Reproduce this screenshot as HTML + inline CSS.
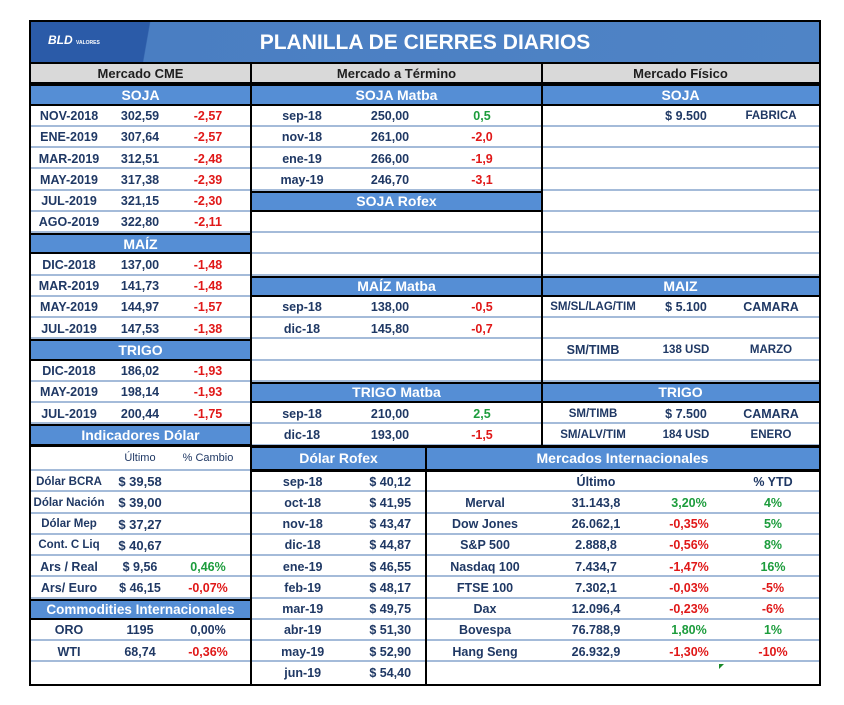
<!DOCTYPE html>
<html><head><meta charset="utf-8"><style>
body{margin:0;width:844px;height:705px;background:#fff;position:relative;overflow:hidden;font-family:"Liberation Sans",sans-serif}
.blk{position:absolute}
.r{display:flex;height:21.25px;box-sizing:border-box;align-items:center;font-weight:bold;font-size:12.5px;color:#1f3864;box-shadow:inset 0 -2px #a4bbd9;white-space:nowrap}
.r>span{text-align:center;display:block}
.b{background:#558ed5;color:#fff;font-size:14px;justify-content:center;box-shadow:inset 0 2px #000,inset 0 -2px #000}
.g{background:#d9d9d9;color:#1f1f1f;font-size:13px;justify-content:center;font-weight:bold;box-shadow:inset 0 -2px #000}
.red{color:#e01818}.grn{color:#1c9c3c}
.vl{position:absolute;background:#000;width:2px}
.hl{position:absolute;background:#000;height:2px}
.sm{font-size:11.5px}
</style></head><body>
<div style="position:absolute;left:30px;top:21px;width:790px;height:42px;background:linear-gradient(100deg,#2b5ba8 0,#2b5ba8 118px,#4a7ec2 119px,#4f84c6 100%)"></div>
<div style="position:absolute;left:48px;top:33px;color:#fff;font-weight:bold;font-style:italic;font-size:12px">BLD <span style="font-size:5px;font-style:normal">VALORES<br></span></div>
<div style="position:absolute;left:30px;top:21px;width:790px;height:42px;line-height:44px;text-align:center;color:#fff;font-weight:bold;font-size:21px">PLANILLA DE CIERRES DIARIOS</div>

<!-- Left top -->
<div class="blk" style="left:30px;top:63px;width:221px">
<div class="r g">Mercado CME</div>
<div class="r b">SOJA</div>
<div class="r"><span style="width:78px">NOV-2018</span><span style="width:64px">302,59</span><span style="width:72px" class="red">-2,57</span></div>
<div class="r"><span style="width:78px">ENE-2019</span><span style="width:64px">307,64</span><span style="width:72px" class="red">-2,57</span></div>
<div class="r"><span style="width:78px">MAR-2019</span><span style="width:64px">312,51</span><span style="width:72px" class="red">-2,48</span></div>
<div class="r"><span style="width:78px">MAY-2019</span><span style="width:64px">317,38</span><span style="width:72px" class="red">-2,39</span></div>
<div class="r"><span style="width:78px">JUL-2019</span><span style="width:64px">321,15</span><span style="width:72px" class="red">-2,30</span></div>
<div class="r"><span style="width:78px">AGO-2019</span><span style="width:64px">322,80</span><span style="width:72px" class="red">-2,11</span></div>
<div class="r b">MAÍZ</div>
<div class="r"><span style="width:78px">DIC-2018</span><span style="width:64px">137,00</span><span style="width:72px" class="red">-1,48</span></div>
<div class="r"><span style="width:78px">MAR-2019</span><span style="width:64px">141,73</span><span style="width:72px" class="red">-1,48</span></div>
<div class="r"><span style="width:78px">MAY-2019</span><span style="width:64px">144,97</span><span style="width:72px" class="red">-1,57</span></div>
<div class="r"><span style="width:78px">JUL-2019</span><span style="width:64px">147,53</span><span style="width:72px" class="red">-1,38</span></div>
<div class="r b">TRIGO</div>
<div class="r"><span style="width:78px">DIC-2018</span><span style="width:64px">186,02</span><span style="width:72px" class="red">-1,93</span></div>
<div class="r"><span style="width:78px">MAY-2019</span><span style="width:64px">198,14</span><span style="width:72px" class="red">-1,93</span></div>
<div class="r"><span style="width:78px">JUL-2019</span><span style="width:64px">200,44</span><span style="width:72px" class="red">-1,75</span></div>
<div class="r b">Indicadores Dólar</div>
</div>

<!-- Middle top -->
<div class="blk" style="left:251px;top:63px;width:291px">
<div class="r g">Mercado a Término</div>
<div class="r b">SOJA Matba</div>
<div class="r"><span style="width:102px">sep-18</span><span style="width:74px">250,00</span><span style="width:110px" class="grn">0,5</span></div>
<div class="r"><span style="width:102px">nov-18</span><span style="width:74px">261,00</span><span style="width:110px" class="red">-2,0</span></div>
<div class="r"><span style="width:102px">ene-19</span><span style="width:74px">266,00</span><span style="width:110px" class="red">-1,9</span></div>
<div class="r"><span style="width:102px">may-19</span><span style="width:74px">246,70</span><span style="width:110px" class="red">-3,1</span></div>
<div class="r b">SOJA Rofex</div>
<div class="r"></div><div class="r"></div><div class="r"></div>
<div class="r b">MAÍZ Matba</div>
<div class="r"><span style="width:102px">sep-18</span><span style="width:74px">138,00</span><span style="width:110px" class="red">-0,5</span></div>
<div class="r"><span style="width:102px">dic-18</span><span style="width:74px">145,80</span><span style="width:110px" class="red">-0,7</span></div>
<div class="r"></div><div class="r"></div>
<div class="r b">TRIGO Matba</div>
<div class="r"><span style="width:102px">sep-18</span><span style="width:74px">210,00</span><span style="width:110px" class="grn">2,5</span></div>
<div class="r"><span style="width:102px">dic-18</span><span style="width:74px">193,00</span><span style="width:110px" class="red">-1,5</span></div>
</div>

<!-- Right top -->
<div class="blk" style="left:542px;top:63px;width:277px">
<div class="r g">Mercado Físico</div>
<div class="r b">SOJA</div>
<div class="r"><span style="width:102px"></span><span style="width:84px">$ 9.500</span><span style="width:86px" class="sm">FABRICA</span></div>
<div class="r"></div><div class="r"></div><div class="r"></div><div class="r"></div><div class="r"></div><div class="r"></div><div class="r"></div>
<div class="r b">MAIZ</div>
<div class="r"><span style="width:102px" class="sm">SM/SL/LAG/TIM</span><span style="width:84px">$ 5.100</span><span style="width:86px">CAMARA</span></div>
<div class="r"></div>
<div class="r"><span style="width:102px">SM/TIMB</span><span style="width:84px" class="sm">138 USD</span><span style="width:86px" class="sm">MARZO</span></div>
<div class="r"></div>
<div class="r b">TRIGO</div>
<div class="r"><span style="width:102px" class="sm">SM/TIMB</span><span style="width:84px">$ 7.500</span><span style="width:86px">CAMARA</span></div>
<div class="r"><span style="width:102px" class="sm">SM/ALV/TIM</span><span style="width:84px" class="sm">184 USD</span><span style="width:86px" class="sm">ENERO</span></div>
</div>

<!-- Left bottom -->
<div class="blk" style="left:30px;top:445.5px;width:221px">
<div class="r" style="height:25.5px;font-size:11px;font-weight:normal"><span style="width:78px"></span><span style="width:64px">Último</span><span style="width:72px">% Cambio</span></div>
<div class="r sm"><span style="width:78px">Dólar BCRA</span><span style="width:64px;font-size:13px">$ 39,58</span><span style="width:72px"></span></div>
<div class="r sm"><span style="width:78px">Dólar Nación</span><span style="width:64px;font-size:13px">$ 39,00</span><span style="width:72px"></span></div>
<div class="r sm"><span style="width:78px">Dólar Mep</span><span style="width:64px;font-size:13px">$ 37,27</span><span style="width:72px"></span></div>
<div class="r sm"><span style="width:78px">Cont. C Liq</span><span style="width:64px;font-size:13px">$ 40,67</span><span style="width:72px"></span></div>
<div class="r"><span style="width:78px">Ars / Real</span><span style="width:64px">$ 9,56</span><span style="width:72px" class="grn">0,46%</span></div>
<div class="r"><span style="width:78px">Ars/ Euro</span><span style="width:64px">$ 46,15</span><span style="width:72px" class="red">-0,07%</span></div>
<div class="r b" style="font-size:13.5px">Commodities Internacionales</div>
<div class="r"><span style="width:78px">ORO</span><span style="width:64px">1195</span><span style="width:72px">0,00%</span></div>
<div class="r"><span style="width:78px">WTI</span><span style="width:64px">68,74</span><span style="width:72px" class="red">-0,36%</span></div>
<div class="r" style="box-shadow:none"></div>
</div>

<!-- Dolar Rofex -->
<div class="blk" style="left:251px;top:445.5px;width:175px">
<div class="r b" style="height:25.5px">Dólar Rofex</div>
<div class="r"><span style="width:104px">sep-18</span><span style="width:72px">$ 40,12</span></div>
<div class="r"><span style="width:104px">oct-18</span><span style="width:72px">$ 41,95</span></div>
<div class="r"><span style="width:104px">nov-18</span><span style="width:72px">$ 43,47</span></div>
<div class="r"><span style="width:104px">dic-18</span><span style="width:72px">$ 44,87</span></div>
<div class="r"><span style="width:104px">ene-19</span><span style="width:72px">$ 46,55</span></div>
<div class="r"><span style="width:104px">feb-19</span><span style="width:72px">$ 48,17</span></div>
<div class="r"><span style="width:104px">mar-19</span><span style="width:72px">$ 49,75</span></div>
<div class="r"><span style="width:104px">abr-19</span><span style="width:72px">$ 51,30</span></div>
<div class="r"><span style="width:104px">may-19</span><span style="width:72px">$ 52,90</span></div>
<div class="r" style="box-shadow:none"><span style="width:104px">jun-19</span><span style="width:72px">$ 54,40</span></div>
</div>

<!-- Mercados Internacionales -->
<div class="blk" style="left:426px;top:445.5px;width:393px">
<div class="r b" style="height:25.5px">Mercados Internacionales</div>
<div class="r"><span style="width:118px"></span><span style="width:104px">Último</span><span style="width:82px"></span><span style="width:86px">% YTD</span></div>
<div class="r"><span style="width:118px">Merval</span><span style="width:104px">31.143,8</span><span style="width:82px" class="grn">3,20%</span><span style="width:86px" class="grn">4%</span></div>
<div class="r"><span style="width:118px">Dow Jones</span><span style="width:104px">26.062,1</span><span style="width:82px" class="red">-0,35%</span><span style="width:86px" class="grn">5%</span></div>
<div class="r"><span style="width:118px">S&amp;P 500</span><span style="width:104px">2.888,8</span><span style="width:82px" class="red">-0,56%</span><span style="width:86px" class="grn">8%</span></div>
<div class="r"><span style="width:118px">Nasdaq 100</span><span style="width:104px">7.434,7</span><span style="width:82px" class="red">-1,47%</span><span style="width:86px" class="grn">16%</span></div>
<div class="r"><span style="width:118px">FTSE 100</span><span style="width:104px">7.302,1</span><span style="width:82px" class="red">-0,03%</span><span style="width:86px" class="red">-5%</span></div>
<div class="r"><span style="width:118px">Dax</span><span style="width:104px">12.096,4</span><span style="width:82px" class="red">-0,23%</span><span style="width:86px" class="red">-6%</span></div>
<div class="r"><span style="width:118px">Bovespa</span><span style="width:104px">76.788,9</span><span style="width:82px" class="grn">1,80%</span><span style="width:86px" class="grn">1%</span></div>
<div class="r"><span style="width:118px">Hang Seng</span><span style="width:104px">26.932,9</span><span style="width:82px" class="red">-1,30%</span><span style="width:86px" class="red">-10%</span></div>
<div class="r" style="box-shadow:none"></div>
</div>
<div style="position:absolute;left:719px;top:664px;width:0;height:0;border-top:5px solid #1a8a2a;border-right:5px solid transparent"></div>

<!-- lines -->
<div class="hl" style="left:30px;top:62px;width:790px"></div>
<div class="hl" style="left:30px;top:444.5px;width:790px"></div>
<div class="hl" style="left:251px;top:470px;width:569px"></div>
<div class="vl" style="left:250px;top:62px;height:622px"></div>
<div class="vl" style="left:541px;top:62px;height:384px"></div>
<div class="vl" style="left:425px;top:445px;height:239px"></div>
<div style="position:absolute;left:29px;top:20px;width:788px;height:662px;border:2px solid #000"></div>
</body></html>
